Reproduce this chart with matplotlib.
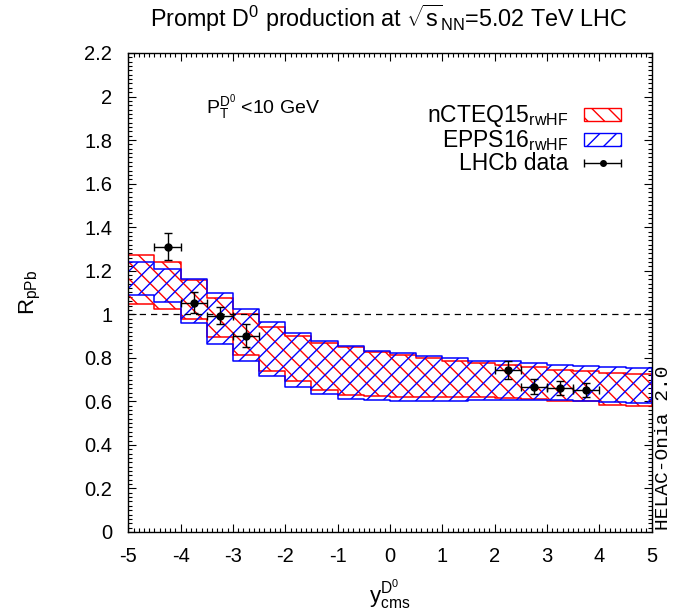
import numpy as np
import matplotlib
matplotlib.use('Agg')
import matplotlib.pyplot as plt
from matplotlib.patches import Rectangle
from matplotlib.ticker import MultipleLocator
from matplotlib.legend_handler import HandlerErrorbar

plt.rcParams['font.family'] = ['Liberation Sans', 'DejaVu Sans']
plt.rcParams['mathtext.fontset'] = 'custom'
plt.rcParams['mathtext.rm'] = 'Liberation Sans'
plt.rcParams['mathtext.it'] = 'Liberation Sans:italic'
plt.rcParams['mathtext.bf'] = 'Liberation Sans:bold'
plt.rcParams['mathtext.sf'] = 'Liberation Sans'
plt.rcParams['axes.unicode_minus'] = False
plt.rcParams['hatch.linewidth'] = 1.0

# ---- data ----
bin_edges = [-5.0, -4.5, -4.0, -3.5, -3.0, -2.5, -2.0, -1.5, -1.0, -0.5, 0.0,
             0.5, 1.0, 1.5, 2.0, 2.5, 3.0, 3.5, 4.0, 4.5, 5.0]

ncteq_hi = [1.272, 1.239, 1.158, 1.073, 1.000, 0.940, 0.898, 0.867, 0.851, 0.825,
            0.813, 0.798, 0.785, 0.775, 0.767, 0.759, 0.746, 0.740, 0.732, 0.724]
ncteq_lo = [1.047, 1.023, 0.979, 0.897, 0.811, 0.740, 0.692, 0.654, 0.629, 0.625,
            0.622, 0.622, 0.619, 0.622, 0.614, 0.610, 0.603, 0.600, 0.584, 0.579]

epps_hi = [1.239, 1.207, 1.162, 1.096, 1.024, 0.966, 0.916, 0.878, 0.856, 0.833,
           0.821, 0.808, 0.798, 0.787, 0.784, 0.775, 0.767, 0.763, 0.757, 0.752]
epps_lo = [1.089, 1.058, 0.962, 0.864, 0.785, 0.718, 0.668, 0.635, 0.611, 0.606,
           0.603, 0.603, 0.603, 0.608, 0.608, 0.606, 0.604, 0.602, 0.596, 0.591]

lhcb_y_pos = [-4.25, -3.75, -3.25, -2.75, 2.25, 2.75, 3.25, 3.75]
lhcb_rpa = [1.311, 1.053, 0.994, 0.902, 0.744, 0.667, 0.663, 0.652]
lhcb_err = [0.063, 0.048, 0.040, 0.053, 0.040, 0.035, 0.032, 0.033]
lhcb_xerr = [0.25, 0.25, 0.25, 0.25, 0.25, 0.25, 0.25, 0.25]

xticks = [-5, -4, -3, -2, -1, 0, 1, 2, 3, 4, 5]
yticks = [0, 0.2, 0.4, 0.6, 0.8, 1, 1.2, 1.4, 1.6, 1.8, 2, 2.2]
ytick_labels = ['0', '0.2', '0.4', '0.6', '0.8', '1', '1.2', '1.4', '1.6', '1.8', '2', '2.2']

# ---- figure ----
fig = plt.figure(figsize=(6.93, 6.16), dpi=100)
ax = fig.add_axes([0.1851, 0.1364, 0.7553, 0.7776])

edges = np.array(bin_edges)

def band(lo, hi, color, hatch):
    lo_e = np.append(lo, lo[-1])
    hi_e = np.append(hi, hi[-1])
    ax.fill_between(edges, lo_e, hi_e, step='post', facecolor='none',
                    edgecolor=color, hatch=hatch, linewidth=1.1, zorder=2)

band(ncteq_lo, ncteq_hi, 'red', '\\\\')
band(epps_lo, epps_hi, 'blue', '//')

ax.axhline(1.0, color='black', lw=0.9, ls=(0, (5, 4)), zorder=3)

ax.errorbar(lhcb_y_pos, lhcb_rpa, xerr=lhcb_xerr, yerr=lhcb_err, fmt='o',
            color='black', ms=5, capsize=3, elinewidth=1, capthick=1, zorder=5)

ax.set_xlim(-5, 5)
ax.set_ylim(0, 2.2)
ax.set_xticks(xticks)
ax.set_xticklabels([str(t) for t in xticks])
ax.set_yticks(yticks)
ax.set_yticklabels(ytick_labels)
ax.xaxis.set_minor_locator(MultipleLocator(0.1))
ax.yaxis.set_minor_locator(MultipleLocator(0.02))
ax.tick_params(which='both', direction='in', top=True, right=True, width=0.8,
               labelsize=14.5)
ax.tick_params(which='major', length=6)
ax.tick_params(which='minor', length=3)
ax.tick_params(axis='x', pad=11)
ax.tick_params(axis='y', pad=11.5)
for s in ax.spines.values():
    s.set_linewidth(1.0)

# legend
h1 = Rectangle((0, 0), 1, 1, facecolor='none', edgecolor='red', hatch='\\\\', lw=1.0)
h2 = Rectangle((0, 0), 1, 1, facecolor='none', edgecolor='blue', hatch='//', lw=1.0)
h3 = ax.errorbar([np.nan], [np.nan], xerr=[0.25], fmt='o', color='black', ms=4,
                 capsize=3, elinewidth=1, capthick=1)
leg = ax.legend([h1, h2, h3],
                [r'nCTEQ15$_{\mathrm{rwHF}}$', r'EPPS16$_{\mathrm{rwHF}}$', 'LHCb data'],
                loc='upper right', bbox_to_anchor=(0.9413, 0.8946), frameon=False,
                markerfirst=False, borderpad=0, borderaxespad=0, handletextpad=0.7,
                labelspacing=-0.05, fontsize=16.5, handlelength=1.6, handleheight=0.51,
                handler_map={type(h3): HandlerErrorbar(xerr_size=0.8)})

ax.text(0.1494, 0.8727, r'$\mathrm{P_T^{D^0}}$ <10 GeV', transform=ax.transAxes,
        fontsize=14, ha='left', va='baseline')

fig.text(389 / 693, 1 - 27 / 616,
         r'Prompt D$^{0}$ production at $\sqrt{\mathrm{s}}_{\mathrm{NN}}$=5.02 TeV LHC',
         ha='center', va='baseline', fontsize=16.8)
fig.text(30 / 693, 1 - 292 / 616, r'R$_{\mathrm{pPb}}$', rotation=90,
         ha='center', va='center', fontsize=16)
fig.text(390 / 693, 1 - 595 / 616, r'y$^{\mathrm{D^0}}_{\mathrm{cms}}$',
         ha='center', va='center', fontsize=16)
fig.text(663 / 693, 1 - 530 / 616, 'HELAC-Onia 2.0', rotation=90,
         family='Liberation Mono', ha='center', va='bottom', fontsize=14)

fig.savefig('out.png', dpi=100)
